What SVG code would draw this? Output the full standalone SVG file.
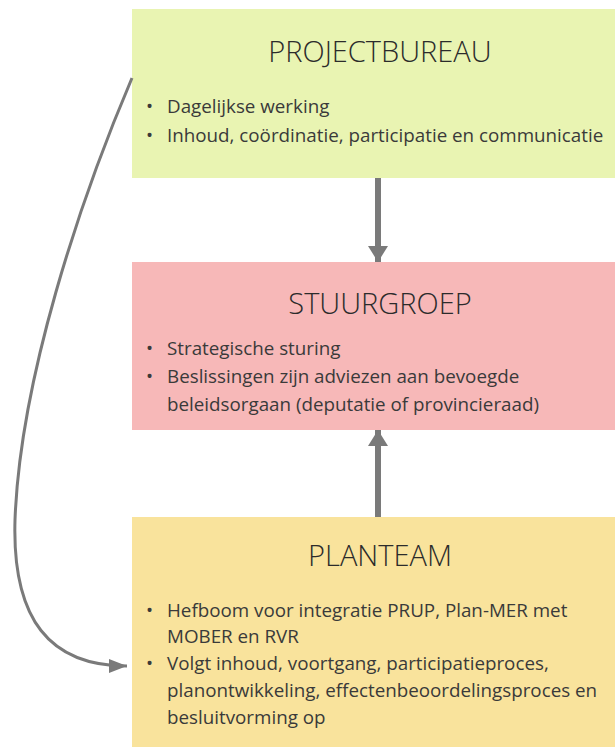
<svg xmlns="http://www.w3.org/2000/svg" width="615" height="747" viewBox="0 0 615 747">
<style>
.title{font-family:"Open Sans","Liberation Sans",sans-serif;font-weight:300;font-size:29px;fill:#2b2b2b;text-anchor:middle}
.body{font-family:"Open Sans","Liberation Sans",sans-serif;font-size:18.8px;fill:#3a3a3a}
.conn{stroke:#7a7a7a;fill:none}
</style>
<defs>
<marker id="big" markerWidth="17" markerHeight="21" refX="16" refY="10" orient="auto" markerUnits="userSpaceOnUse">
<path d="M0,0 L16,10 L0,20 Z" fill="#7a7a7a"/>
</marker>
<marker id="small" markerWidth="19" markerHeight="15" refX="18" refY="7" orient="auto" markerUnits="userSpaceOnUse">
<path d="M0,0 L18,7 L0,14 Z" fill="#7a7a7a"/>
</marker>
</defs>
<rect width="615" height="747" fill="#ffffff"/>
<g id="projectbureau">
<rect x="132" y="9" width="483" height="169" fill="#e9f4b2"/>
<text class="title" x="380" y="62">PROJECTBUREAU</text>
<text class="body" x="146" y="113">•</text>
<text class="body" x="167" y="113">Dagelijkse werking</text>
<text class="body" x="146" y="142">•</text>
<text class="body" x="167" y="142">Inhoud, coördinatie, participatie en communicatie</text>
</g>
<g id="stuurgroep">
<rect x="132" y="262" width="483" height="168" fill="#f7b8b8"/>
<text class="title" x="380" y="314">STUURGROEP</text>
<text class="body" x="146" y="355">•</text>
<text class="body" x="167" y="355">Strategische sturing</text>
<text class="body" x="146" y="383">•</text>
<text class="body" x="167" y="383">Beslissingen zijn adviezen aan bevoegde</text>
<text class="body" x="167" y="411">beleidsorgaan (deputatie of provincieraad)</text>
</g>
<g id="planteam">
<rect x="132" y="517" width="483" height="230" fill="#f9e39c"/>
<text class="title" x="380" y="566">PLANTEAM</text>
<text class="body" x="146" y="617">•</text>
<text class="body" x="167" y="617">Hefboom voor integratie PRUP, Plan-MER met</text>
<text class="body" x="167" y="643">MOBER en RVR</text>
<text class="body" x="146" y="670">•</text>
<text class="body" x="167" y="670">Volgt inhoud, voortgang, participatieproces,</text>
<text class="body" x="167" y="697">planontwikkeling, effectenbeoordelingsproces en</text>
<text class="body" x="167" y="724">besluitvorming op</text>
</g>
<g id="connectors">
<path class="conn" stroke-width="6" d="M378,178 L378,262" marker-end="url(#big)"/>
<path class="conn" stroke-width="6" d="M378,517 L378,430" marker-end="url(#big)"/>
<path class="conn" stroke-width="3" d="M132,78 C80,200 20,380 15,520 C12,620 50,666 127,666" marker-end="url(#small)"/>
</g>
</svg>
